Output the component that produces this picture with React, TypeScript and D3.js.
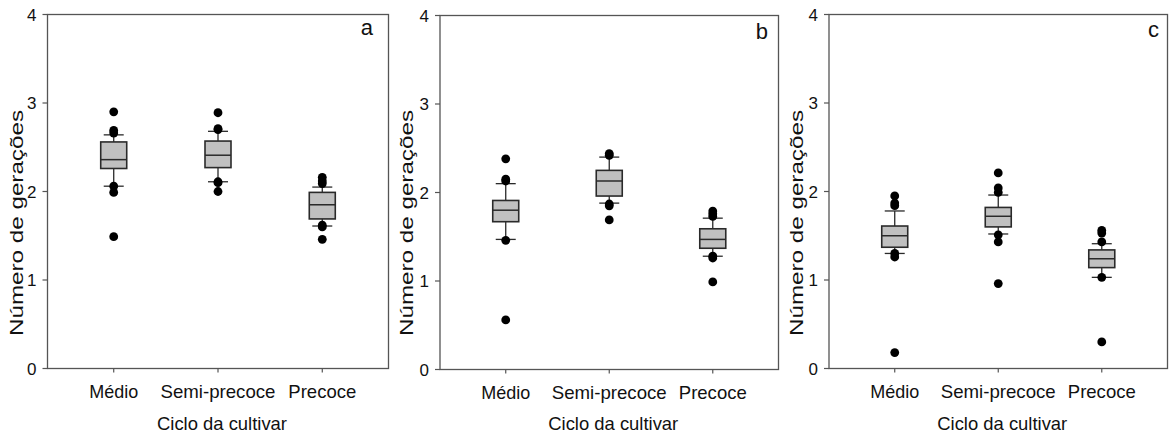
import React from "react";
import * as d3 from "d3";

const categories = ["Médio", "Semi-precoce", "Precoce"];
const panelLabels = ["a", "b", "c"];
const yTicks = [0, 1, 2, 3, 4];
const yLabel = "Número de gerações";
const xLabel = "Ciclo da cultivar";

// panel a
const aWhiskerLow = [2.06, 2.11, 1.61];
const aQ1 = [2.26, 2.27, 1.69];
const aMedian = [2.36, 2.41, 1.85];
const aQ3 = [2.56, 2.57, 1.99];
const aWhiskerHigh = [2.64, 2.68, 2.05];
const aOutliers = [
  [2.9, 2.69, 2.66, 2.06, 1.99, 1.49],
  [2.89, 2.71, 2.7, 2.11, 2.1, 2.0],
  [2.16, 2.12, 2.09, 1.62, 1.6, 1.46],
];

// panel b
const bWhiskerLow = [1.47, 1.88, 1.28];
const bQ1 = [1.67, 1.96, 1.37];
const bMedian = [1.8, 2.13, 1.47];
const bQ3 = [1.91, 2.25, 1.59];
const bWhiskerHigh = [2.1, 2.4, 1.71];
const bOutliers = [
  [2.38, 2.15, 2.13, 1.46, 0.56],
  [2.44, 2.42, 1.87, 1.85, 1.69],
  [1.79, 1.76, 1.73, 1.28, 1.26, 0.99],
];

// panel c
const cWhiskerLow = [1.3, 1.52, 1.03];
const cQ1 = [1.37, 1.6, 1.14];
const cMedian = [1.5, 1.72, 1.24];
const cQ3 = [1.61, 1.82, 1.34];
const cWhiskerHigh = [1.78, 1.96, 1.41];
const cOutliers = [
  [1.95, 1.87, 1.84, 1.3, 1.26, 0.18],
  [2.21, 2.04, 1.99, 1.51, 1.43, 0.96],
  [1.56, 1.53, 1.43, 1.03, 0.3],
];

const panelsData = [
  { lo: aWhiskerLow, q1: aQ1, med: aMedian, q3: aQ3, hi: aWhiskerHigh, out: aOutliers },
  { lo: bWhiskerLow, q1: bQ1, med: bMedian, q3: bQ3, hi: bWhiskerHigh, out: bOutliers },
  { lo: cWhiskerLow, q1: cQ1, med: cMedian, q3: cQ3, hi: cWhiskerHigh, out: cOutliers },
];

// layout (pixel geometry)
const layouts = [
  { left: 47.5, right: 388.5, top: 14.5, bottom: 368.5, labX: 373, labY: 35, yLabX: 23 },
  { left: 440, right: 778.5, top: 15.5, bottom: 369.5, labX: 768, labY: 39, yLabX: 413 },
  { left: 829, right: 1167.5, top: 14.5, bottom: 368.5, labX: 1159, labY: 37, yLabX: 803 },
];
const catLabelWidths = [49, 115, 68];
const xLabelWidth = 130;

const FONT = "'Liberation Sans', Arial, Helvetica, sans-serif";
const frameColor = "#555";
const boxStroke = "#2a2a2a";
const boxFill = "#c0c0c0";

function Panel({ idx }: { idx: number }) {
  const L = layouts[idx];
  const D = panelsData[idx];
  const y = d3.scaleLinear().domain([0, 4]).range([L.bottom, L.top]);
  const x = d3.scalePoint<string>().domain(categories).range([L.left, L.right]).padding(0.635);
  const boxW = 26;
  const capW = 20;
  const cx = (L.left + L.right) / 2;
  return (
    <g>
      <rect x={L.left} y={L.top} width={L.right - L.left} height={L.bottom - L.top}
        fill="none" stroke={frameColor} strokeWidth={1.3} />
      {yTicks.map((t) => (
        <g key={t}>
          <line x1={L.left - 5} x2={L.left} y1={y(t)} y2={y(t)} stroke={frameColor} strokeWidth={1.2} />
          <text x={L.left - 11} y={y(t)} dy="0.36em" textAnchor="end" fontSize={17} fontFamily={FONT} fill="#111">
            {t}
          </text>
        </g>
      ))}
      {categories.map((c, i) => (
        <g key={c}>
          <line x1={x(c)} x2={x(c)} y1={L.bottom} y2={L.bottom + 4} stroke={frameColor} strokeWidth={1.2} />
          <text x={x(c)} y={L.bottom + 29.5} textAnchor="middle" fontSize={19} fontFamily={FONT} fill="#111"
            textLength={catLabelWidths[i]} lengthAdjust="spacingAndGlyphs">
            {c}
          </text>
        </g>
      ))}
      <text x={cx + 4} y={430} textAnchor="middle" fontSize={19} fontFamily={FONT} fill="#111"
        textLength={xLabelWidth} lengthAdjust="spacingAndGlyphs">
        {xLabel}
      </text>
      <text
        transform={`translate(${L.yLabX},223) rotate(-90)`}
        textAnchor="middle"
        fontSize={18.5}
        fontFamily={FONT}
        fill="#111"
        textLength={226}
        lengthAdjust="spacingAndGlyphs"
      >
        {yLabel}
      </text>
      <text x={L.labX} y={L.labY} textAnchor="end" fontSize={22} fontFamily={FONT} fill="#111">
        {panelLabels[idx]}
      </text>
      {categories.map((c, i) => {
        const px = x(c) as number;
        return (
          <g key={c}>
            <line x1={px} x2={px} y1={y(D.hi[i])} y2={y(D.q3[i])} stroke={boxStroke} strokeWidth={1.3} />
            <line x1={px} x2={px} y1={y(D.q1[i])} y2={y(D.lo[i])} stroke={boxStroke} strokeWidth={1.3} />
            <line x1={px - capW / 2} x2={px + capW / 2} y1={y(D.hi[i])} y2={y(D.hi[i])} stroke={boxStroke} strokeWidth={1.3} />
            <line x1={px - capW / 2} x2={px + capW / 2} y1={y(D.lo[i])} y2={y(D.lo[i])} stroke={boxStroke} strokeWidth={1.3} />
            <rect x={px - boxW / 2} y={y(D.q3[i])} width={boxW} height={y(D.q1[i]) - y(D.q3[i])}
              fill={boxFill} stroke={boxStroke} strokeWidth={1.6} />
            <line x1={px - boxW / 2} x2={px + boxW / 2} y1={y(D.med[i])} y2={y(D.med[i])} stroke={boxStroke} strokeWidth={1.5} />
            {D.out[i].map((v, j) => (
              <circle key={j} cx={px} cy={y(v)} r={4.4} fill="#000" />
            ))}
          </g>
        );
      })}
    </g>
  );
}

export default function App() {
  return (
    <svg width={1174} height={434} style={{ position: "absolute", left: 0, top: 0, background: "#fff" }}>
      <rect x={0} y={0} width={1174} height={434} fill="#fff" />
      {[0, 1, 2].map((i) => (
        <Panel key={i} idx={i} />
      ))}
    </svg>
  );
}
